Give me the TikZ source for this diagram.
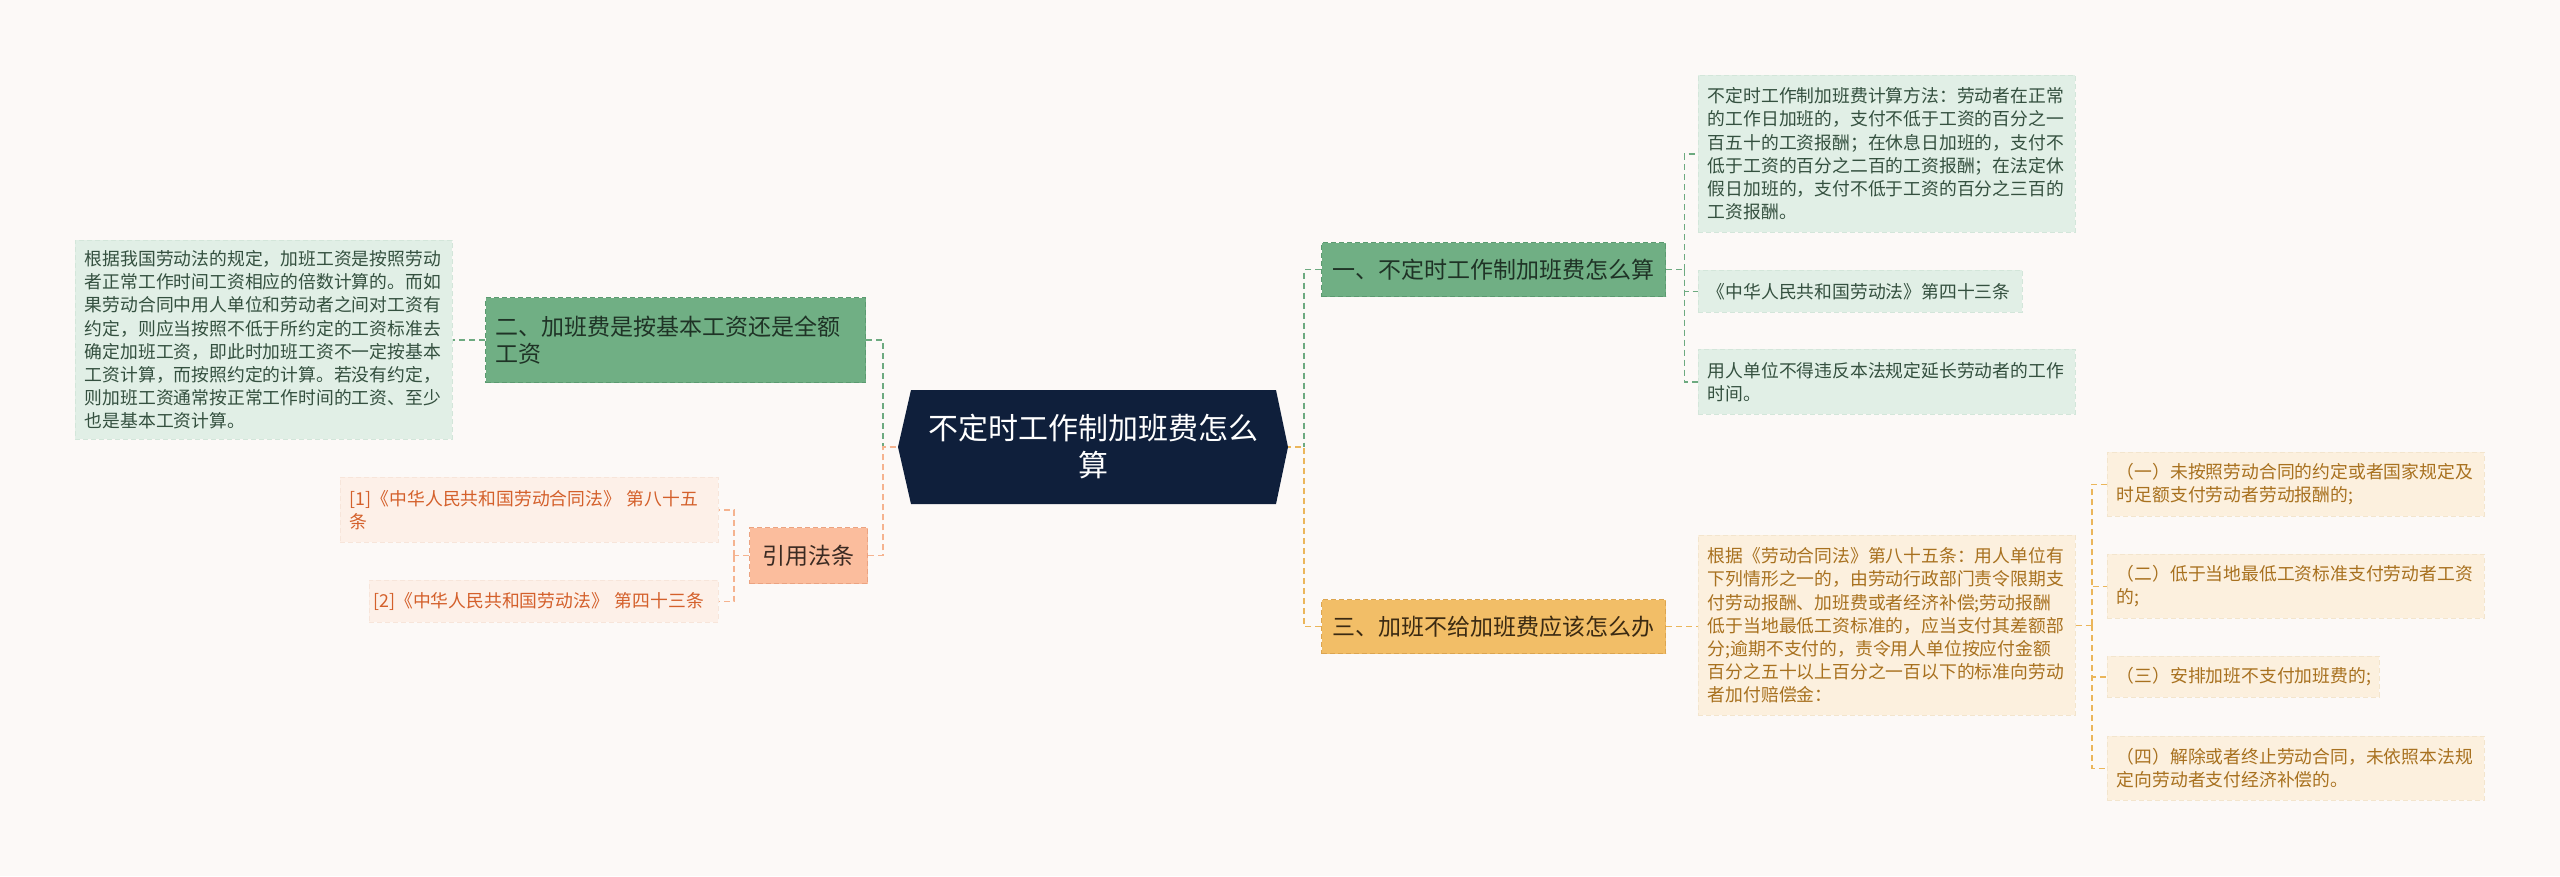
\documentclass[tikz,border=0pt]{standalone}
\usepackage{fontspec}
\setmainfont{Noto Sans CJK SC}
\usetikzlibrary{calc}
\definecolor{bg}{HTML}{FCF9F7}
\definecolor{navy}{HTML}{0F1F3B}
\definecolor{gfill}{HTML}{70AF84}
\definecolor{gdraw}{HTML}{5B9A70}
\definecolor{gtext}{HTML}{1F3326}
\definecolor{glfill}{HTML}{E1EFE6}
\definecolor{gldraw}{HTML}{D3E6DA}
\definecolor{gltext}{HTML}{34503F}
\definecolor{afill}{HTML}{F2BE67}
\definecolor{adraw}{HTML}{DCA550}
\definecolor{atext}{HTML}{3B2A12}
\definecolor{alfill}{HTML}{FCF0DE}
\definecolor{aldraw}{HTML}{F3E5CD}
\definecolor{altext}{HTML}{A8711F}
\definecolor{sfill}{HTML}{FBBD9D}
\definecolor{sdraw}{HTML}{EBA381}
\definecolor{stext}{HTML}{3A2A22}
\definecolor{slfill}{HTML}{FDF0E8}
\definecolor{sldraw}{HTML}{F7E5DA}
\definecolor{sltext}{HTML}{D4602B}
\definecolor{congreen}{HTML}{6DAA80}
\definecolor{conamber}{HTML}{EBB65A}
\definecolor{consalmon}{HTML}{F5B38F}
\tikzset{
  conn/.style={line width=1.6pt, dash pattern=on 6pt off 4pt},
  cg/.style={conn, draw=congreen},
  ca/.style={conn, draw=conamber},
  cs/.style={conn, draw=consalmon},
  box/.style={rectangle, anchor=north west, align=left, inner ysep=0pt},
  mainbox/.style={box, line width=1.3pt, dash pattern=on 5pt off 3pt, font=\fontsize{23}{27}\selectfont, inner xsep=11pt},
  leafbox/.style={box, line width=0.8pt, dash pattern=on 5pt off 3pt, font=\fontsize{17.8}{23.2}\selectfont, inner xsep=9.5pt},
  gmain/.style={mainbox, fill=gfill, draw=gdraw, text=gtext},
  amain/.style={mainbox, fill=afill, draw=adraw, text=atext},
  smain/.style={mainbox, fill=sfill, draw=sdraw, text=stext},
  gleaf/.style={leafbox, fill=glfill, draw=gldraw, text=gltext},
  aleaf/.style={leafbox, fill=alfill, draw=aldraw, text=altext},
  sleaf/.style={leafbox, fill=slfill, draw=sldraw, text=sltext},
  hexnode/.style={minimum width=390pt, minimum height=114pt, inner sep=0pt, align=center, text=white,
    font=\fontsize{30}{37}\selectfont,
    path picture={\fill[navy] (path picture bounding box.west) -- ($(path picture bounding box.north west)+(13,0)$) -- ($(path picture bounding box.north east)+(-12,0)$) -- (path picture bounding box.east) -- ($(path picture bounding box.south east)+(-12,0)$) -- ($(path picture bounding box.south west)+(13,0)$) -- cycle;}}
}
\begin{document}
\begin{tikzpicture}[x=1pt,y=-1pt]
\path[use as bounding box, fill=bg] (0,0) rectangle (2560,876);

% center
\node[hexnode] (c) at (1093,447) {不定时工作制加班费怎么\\算};

% main branches
\node[gmain, minimum width=344pt, minimum height=54pt] (n1) at (1321,242) {一、不定时工作制加班费怎么算};
\node[amain, minimum width=344pt, minimum height=54pt] (n3) at (1321,599) {三、加班不给加班费应该怎么办};
\node[gmain, text width=360pt, inner xsep=10pt, minimum height=85pt] (n2) at (485,297) {二、加班费是按基本工资还是全额\\工资};
\node[smain, minimum width=118pt, minimum height=56pt, inner xsep=13pt] (ref) at (749,527) {引用法条};

% leaves of n1
\node[gleaf, text width=358pt, minimum height=157pt] (r1a) at (1698,75) {不定时工作制加班费计算方法：劳动者在正常\\的工作日加班的，支付不低于工资的百分之一\\百五十的工资报酬；在休息日加班的，支付不\\低于工资的百分之二百的工资报酬；在法定休\\假日加班的，支付不低于工资的百分之三百的\\工资报酬。};
\node[gleaf, text width=305pt, minimum height=42pt] (r1b) at (1698,270) {《中华人民共和国劳动法》第四十三条};
\node[gleaf, text width=358pt, minimum height=65pt] (r1c) at (1698,349) {用人单位不得违反本法规定延长劳动者的工作\\时间。};

% leaves of n3
\node[aleaf, text width=358pt, minimum height=180pt] (r3a) at (1698,535) {根据《劳动合同法》第八十五条：用人单位有\\下列情形之一的，由劳动行政部门责令限期支\\付劳动报酬、加班费或者经济补偿;劳动报酬\\低于当地最低工资标准的，应当支付其差额部\\分;逾期不支付的，责令用人单位按应付金额\\百分之五十以上百分之一百以下的标准向劳动\\者加付赔偿金：};
\node[aleaf, text width=358pt, minimum height=64pt] (r3b) at (2107,452) {（一）未按照劳动合同的约定或者国家规定及\\时足额支付劳动者劳动报酬的;};
\node[aleaf, text width=358pt, minimum height=64pt] (r3c) at (2107,554) {（二）低于当地最低工资标准支付劳动者工资\\的;};
\node[aleaf, text width=253pt, minimum height=41pt] (r3d) at (2107,656) {（三）安排加班不支付加班费的;};
\node[aleaf, text width=358pt, minimum height=64pt] (r3e) at (2107,736) {（四）解除或者终止劳动合同，未依照本法规\\定向劳动者支付经济补偿的。};

% leaf of n2
\node[gleaf, text width=358pt, minimum height=199pt] (l1) at (75,240) {根据我国劳动法的规定，加班工资是按照劳动\\者正常工作时间工资相应的倍数计算的。而如\\果劳动合同中用人单位和劳动者之间对工资有\\约定，则应当按照不低于所约定的工资标准去\\确定加班工资，即此时加班工资不一定按基本\\工资计算，而按照约定的计算。若没有约定，\\则加班工资通常按正常工作时间的工资、至少\\也是基本工资计算。};

% leaves of ref
\node[sleaf, text width=359pt, minimum height=65pt] (l2a) at (340,477) {[1]《中华人民共和国劳动合同法》 第八十五\\条};
\node[sleaf, text width=341pt, inner xsep=4pt, minimum height=42pt] (l2b) at (369,580) {\mbox{[2]《中华人民共和国劳动法》 第四十三条}};

% connectors: center
\coordinate (lb) at (883,447);
\coordinate (rb) at (1304,447);
\draw[cg] (n2.east) -| (lb);
\draw[cs] (ref.east) -| (lb) -- (c.west);
\draw[cg] (n1.west) -| (rb);
\draw[ca] (n3.west) -| (rb) -- (c.east);

% n1 children
\draw[cg] (n1.east) -- ++(18,0) coordinate (b1);
\draw[cg] (b1) |- (r1a.west);
\draw[cg] (b1) |- (r1b.west);
\draw[cg] (b1) |- (r1c.west);

% n3 children
\draw[ca] (n3.east) -- (n3.east -| r3a.west);
\draw[ca] (r3a.east) -- ++(16,0) coordinate (b3);
\draw[ca] (b3) |- (r3b.west);
\draw[ca] (b3) |- (r3c.west);
\draw[ca] (b3) |- (r3d.west);
\draw[ca] (b3) |- (r3e.west);

% n2 child
\draw[cg] (n2.west) -- (n2.west -| l1.east);

% ref children
\draw[cs] (ref.west) -- ++(-15,0) coordinate (b2);
\draw[cs] (b2) |- (l2a.east);
\draw[cs] (b2) |- (l2b.east);
\end{tikzpicture}
\end{document}
